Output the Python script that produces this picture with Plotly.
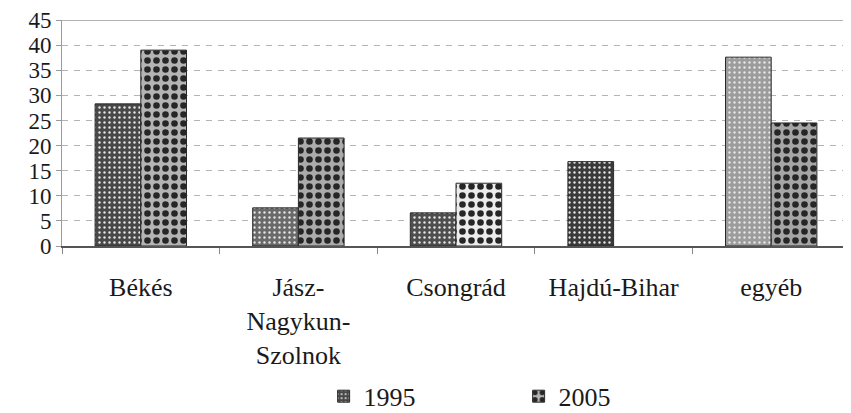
import plotly.graph_objects as go

categories = ["Békés", "Jász-<br>Nagykun-<br>Szolnok", "Csongrád", "Hajdú-Bihar", "egyéb"]
series_names = ["1995", "2005"]
values_1995 = [28.3, 7.6, 6.6, 16.8, 37.6]
values_2005 = [39.0, 21.5, 12.5, 0, 24.5]
y_ticks = [0, 5, 10, 15, 20, 25, 30, 35, 40, 45]

FONT = "Liberation Serif, serif"

fig = go.Figure()
fig.add_trace(go.Bar(
    name=series_names[0], x=categories, y=values_1995,
    marker=dict(
        color="#555555",
        line=dict(color="#2a2a2a", width=1),
        pattern=dict(shape=".", bgcolor=["#484848", "#6a6a6a", "#4e4e4e", "#3a3a3a", "#9c9c9c"],
                     fgcolor="#e6e6e6", size=5, solidity=0.18, fillmode="replace"),
    ),
))
fig.add_trace(go.Bar(
    name=series_names[1], x=categories, y=values_2005,
    marker=dict(
        color="#aaaaaa",
        line=dict(color="#2a2a2a", width=[1, 1, 1, 0, 1]),
        pattern=dict(shape=".", bgcolor=["#b4b4b4", "#ababab", "#ececec", "#b0b0b0", "#a6a6a6"],
                     fgcolor="#262626", size=9, solidity=0.42, fillmode="replace"),
    ),
))

fig.add_shape(type="line", xref="paper", yref="y", x0=0, x1=1, y0=45, y1=45,
              line=dict(color="#9a9a9a", width=1.5))

fig.update_layout(
    width=843, height=405,
    margin=dict(l=54, r=1, t=12, b=167, autoexpand=False),
    paper_bgcolor="white", plot_bgcolor="white",
    barmode="group", bargap=0.42, bargroupgap=0,
    font=dict(family=FONT, color="#1a1a1a", size=26),
    showlegend=True,
    legend=dict(
        orientation="h", xanchor="left", yanchor="middle",
        x=0.332, y=-0.665, entrywidth=150,
        font=dict(family=FONT, size=26, color="#1a1a1a"),
        itemwidth=30, traceorder="normal",
        tracegroupgap=0,
    ),
)
fig.update_yaxes(
    range=[0, 45], tickvals=y_ticks, ticktext=[str(v) for v in y_ticks],
    showgrid=True, gridcolor="#b4b4b4", griddash="6px,6px", gridwidth=1,
    showline=True, linecolor="#9a9a9a", linewidth=1,
    ticks="outside", ticklen=5, tickcolor="#9a9a9a",
    tickfont=dict(family=FONT, size=23, color="#1a1a1a"),
    zeroline=False, fixedrange=True, automargin=False,
)
fig.update_xaxes(
    showline=True, linecolor="#555555", linewidth=1.5,
    ticks="outside", tickson="boundaries", ticklen=6, tickcolor="#888888",
    tickfont=dict(family=FONT, size=26, color="#1a1a1a"),
    ticklabelstandoff=17,
    showgrid=False, fixedrange=True, automargin=False,
)

fig.write_html("out.html")
